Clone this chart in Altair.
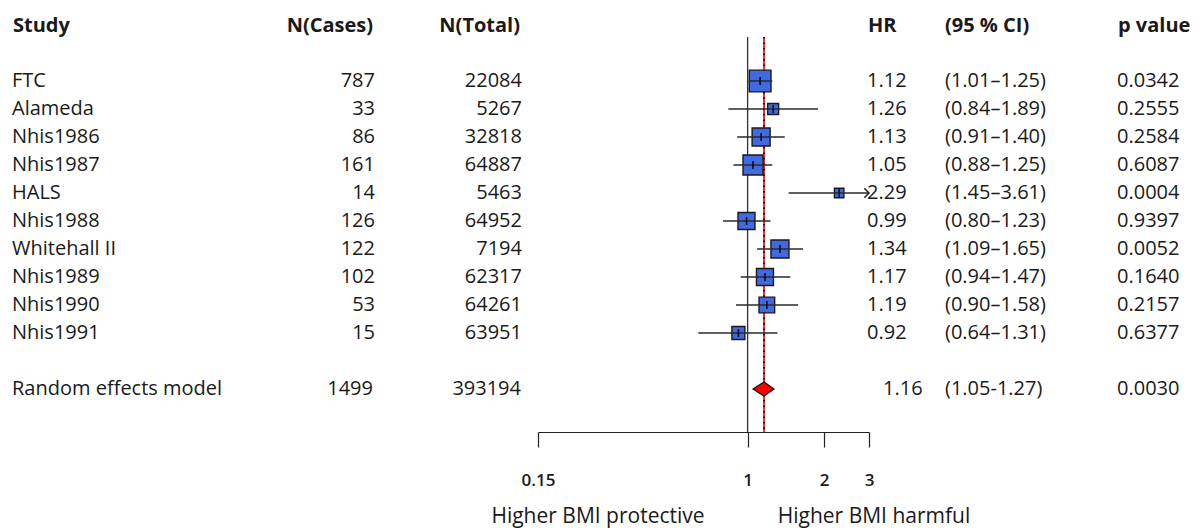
import altair as alt
import pandas as pd

# ---------------- data ----------------
studies = ["FTC", "Alameda", "Nhis1986", "Nhis1987", "HALS", "Nhis1988",
           "Whitehall II", "Nhis1989", "Nhis1990", "Nhis1991"]
cases = [787, 33, 86, 161, 14, 126, 122, 102, 53, 15]
totals = [22084, 5267, 32818, 64887, 5463, 64952, 7194, 62317, 64261, 63951]
hr = [1.12, 1.26, 1.13, 1.05, 2.29, 0.99, 1.34, 1.17, 1.19, 0.92]
ci_lo = [1.01, 0.84, 0.91, 0.88, 1.45, 0.80, 1.09, 0.94, 0.90, 0.64]
ci_hi = [1.25, 1.89, 1.40, 1.25, 3.61, 1.23, 1.65, 1.47, 1.58, 1.31]
p_values = ["0.0342", "0.2555", "0.2584", "0.6087", "0.0004", "0.9397",
            "0.0052", "0.1640", "0.2157", "0.6377"]
weights = [17.3, 4.4, 11.9, 14.7, 3.3, 10.6, 11.9, 10.6, 9.0, 6.2]  # % weight

pooled_label = "Random effects model"
pooled_cases = 1499
pooled_total = 393194
pooled_hr = 1.16
pooled_lo = 1.05
pooled_hi = 1.27
pooled_p = "0.0030"

headers = ["Study", "N(Cases)", "N(Total)", "HR", "(95 % CI)", "p value"]
tick_values = [0.15, 1, 2, 3]
side_labels = ["Higher BMI protective", "Higher BMI harmful"]

# ---------------- layout ----------------
PLOT_LEFT = 538      # pixel of x = 0.15
PLOT_RIGHT = 869     # pixel of x = 3
AXIS_Y = 432
ROW0_Y = 81
ROW_STEP = 28
W, H = 1204, 529

def px(x):  # absolute pixel -> plot-area coordinate
    return x - PLOT_LEFT

n = len(studies)
df = pd.DataFrame({
    "study": studies, "cases": cases, "total": totals, "hr": hr,
    "lo": ci_lo, "hi": ci_hi, "p": p_values, "w": weights,
    "row": list(range(n)),
})
df["hr_txt"] = [f"{v:.2f}" for v in hr]
df["ci_txt"] = [f"({a:.2f}\u2013{b:.2f})" for a, b in zip(ci_lo, ci_hi)]

pooled_row = n + 1
pooled = pd.DataFrame({
    "study": [pooled_label], "cases": [str(pooled_cases)], "total": [str(pooled_total)],
    "hr_txt": [f"{pooled_hr:.2f}"], "ci_txt": [f"({pooled_lo:.2f}-{pooled_hi:.2f})"],
    "p": [pooled_p], "row": [pooled_row],
})
half = 0.25
diamond = pd.DataFrame({
    "hr": [pooled_lo, pooled_hr, pooled_hi],
    "row": [pooled_row, pooled_row - half, pooled_row],
    "row2": [pooled_row, pooled_row + half, pooled_row],
})
refs = pd.DataFrame({"hr": [1.0]})
pooled_ref = pd.DataFrame({"hr": [pooled_hr]})
header_row = (26 - ROW0_Y) / ROW_STEP
header_df = pd.DataFrame({"h": headers, "row": [header_row] * len(headers)})
side_df = pd.DataFrame({"t": side_labels})

FONT = "Open Sans"
FS = 20
TXT = "#1a1a1a"

xscale = alt.Scale(type="log", domain=[0.15, 3], clamp=True, nice=False)
ydom = [(0 - ROW0_Y) / ROW_STEP, (AXIS_Y - ROW0_Y) / ROW_STEP]
yscale = alt.Scale(domain=ydom, reverse=True, nice=False, zero=False)

X = alt.X("hr:Q", scale=xscale,
          axis=alt.Axis(values=tick_values, format="~g", title=None, grid=False,
                        domainColor="#222", domainWidth=1.2, tickColor="#222",
                        tickWidth=1.2, tickSize=15, labelPadding=25, labelFlush=False,
                        labelFont=FONT, labelFontSize=17, labelColor=TXT,
                        labelFontWeight=600))
Y = alt.Y("row:Q", scale=yscale, axis=None)

base = alt.Chart(df)

ref1 = alt.Chart(refs).mark_rule(color="#333", strokeWidth=1.3).encode(
    x=X, y=alt.value(37), y2=alt.value(AXIS_Y))
ref_red = alt.Chart(pooled_ref).mark_rule(color="#e00000", strokeWidth=1.6).encode(
    x=X, y=alt.value(37), y2=alt.value(AXIS_Y))
ref_dot = alt.Chart(pooled_ref).mark_rule(color="#000", strokeWidth=1.6,
                                          strokeDash=[1.5, 4]).encode(
    x=X, y=alt.value(37), y2=alt.value(AXIS_Y))

squares = base.mark_square(color="#4169E1", stroke="#1a1a1a", strokeWidth=1.4,
                           opacity=1).encode(
    x=X, y=Y,
    size=alt.Size("w:Q", scale=alt.Scale(domain=[0, 100], range=[0, 2723]), legend=None))

ci = base.mark_rule(color="#2a2a2a", strokeWidth=1.5).encode(
    x=alt.X("lo:Q", scale=xscale), x2="hi:Q", y=Y)

centre = base.mark_point(shape="M0,-1L0,1", filled=False, color="#111",
                         strokeWidth=1.6, size=64, opacity=1).encode(x=X, y=Y)

arrow = base.transform_filter("datum.hi > 3").mark_point(
    shape="M-1,-1L0,0L-1,1", filled=False, color="#222", strokeWidth=1.5,
    size=90, opacity=1).encode(x=alt.X("hi:Q", scale=xscale), y=Y)

dia = alt.Chart(diamond).mark_area(color="#ff0000", stroke="#111", strokeWidth=1.2,
                                   orient="vertical", opacity=1).encode(
    x=X, y=Y, y2="row2:Q")

def col(data, field, xpos, align, weight="normal"):
    return alt.Chart(data).mark_text(align=align, baseline="middle", font=FONT,
                                     fontSize=FS, color=TXT, fontWeight=weight).encode(
        x=alt.value(px(xpos)), y=Y, text=f"{field}:N")

texts = [
    col(df, "study", 12, "left"),
    col(df, "cases", 375, "right"),
    col(df, "total", 522, "right"),
    col(df, "hr_txt", 867, "left"),
    col(df, "ci_txt", 945, "left"),
    col(df, "p", 1117, "left"),
    col(pooled, "study", 12, "left"),
    col(pooled, "cases", 373, "right"),
    col(pooled, "total", 521, "right"),
    col(pooled, "hr_txt", 883, "left"),
    col(pooled, "ci_txt", 945, "left"),
    col(pooled, "p", 1117, "left"),
]

hdr_x = [13, 373, 520, 868, 945, 1118]
hdr_align = ["left", "right", "right", "left", "left", "left"]
hdr_layers = [col(header_df.iloc[[i]], "h", hdr_x[i], hdr_align[i], "bold")
              for i in range(len(headers))]

side_x = [598, 874]
side_layers = [
    alt.Chart(side_df.iloc[[i]]).mark_text(
        align="center", baseline="middle", font=FONT, fontSize=21, color=TXT).encode(
        x=alt.value(px(side_x[i])), y=alt.value(517), text="t:N")
    for i in range(len(side_labels))
]

chart = alt.layer(
    ref1, ref_red, ref_dot, squares, ci, centre, arrow, dia,
    *texts, *hdr_layers, *side_layers
).properties(
    width=PLOT_RIGHT - PLOT_LEFT, height=AXIS_Y,
    padding={"left": PLOT_LEFT, "top": 0, "right": W - PLOT_RIGHT, "bottom": H - AXIS_Y},
    autosize=alt.AutoSizeParams(type="none"),
    background="white",
).configure_view(stroke=None)

chart.save("out.html", embed_options={"renderer": "svg", "actions": False})
